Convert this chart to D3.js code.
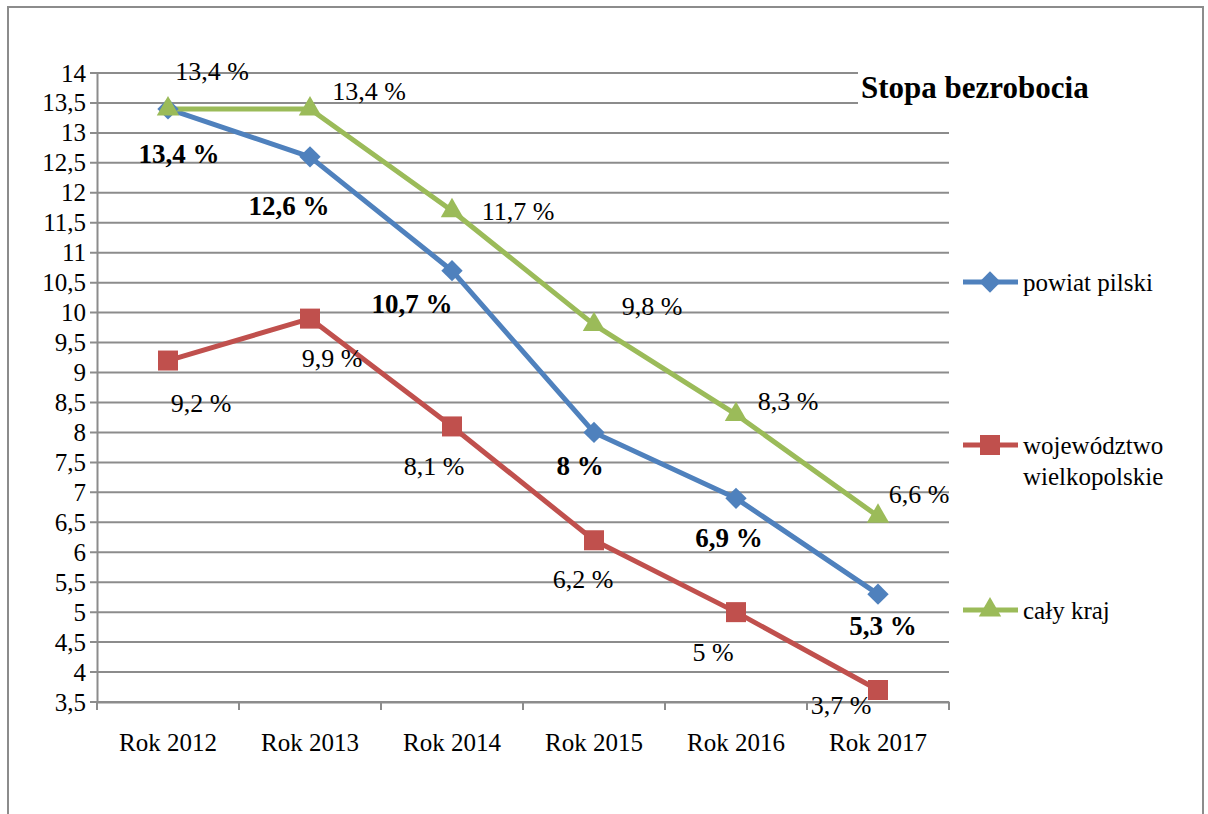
<!DOCTYPE html>
<html>
<head>
<meta charset="utf-8">
<script src="https://cdn.jsdelivr.net/npm/d3@7"></script>
<style>
  body { margin: 0; background: #fff; }
  svg, svg text { font-family: "Liberation Serif", "Times New Roman", "DejaVu Serif", serif; }
  svg { display: block; }
</style>
</head>
<body>
<svg id="chart" width="1208" height="814"></svg>
<script>
// data
const years = ["Rok 2012", "Rok 2013", "Rok 2014", "Rok 2015", "Rok 2016", "Rok 2017"];
const powiatPilski = [13.4, 12.6, 10.7, 8, 6.9, 5.3];
const wojewodztwo = [9.2, 9.9, 8.1, 6.2, 5, 3.7];
const calyKraj = [13.4, 13.4, 11.7, 9.8, 8.3, 6.6];
const yTicks = d3.range(3.5, 14.01, 0.5);

// label placement relative to the point (layout only)
const offsets = {
  blue:  [[11, 45], [-21, 49], [-40, 33], [-14, 34], [-7, 40], [5, 32]],
  red:   [[33, 43], [22, 40], [-18, 40], [-11, 39], [-23, 40], [-37, 15]],
  green: [[44, -37], [59, -17], [66, 1], [58, -18], [52, -13], [41, -22]]
};

const series = [
  { name: ["powiat pilski"], values: powiatPilski, color: "#4F81BD", symbol: d3.symbolDiamond2, size: 290, bold: true, off: offsets.blue, legendY: 282 },
  { name: ["województwo", "wielkopolskie"], values: wojewodztwo, color: "#C0504D", symbol: d3.symbolSquare2, size: 510, bold: false, off: offsets.red, legendY: 445 },
  { name: ["cały kraj"], values: calyKraj, color: "#9BBB59", symbol: d3.symbolTriangle2, size: 360, bold: false, off: offsets.green, legendY: 610 }
];

const svg = d3.select("#chart");
const plotLeft = 97, plotRight = 949, plotTop = 73, plotBottom = 702;

const x = d3.scaleBand().domain(years).range([plotLeft, plotRight]);
const y = d3.scaleLinear().domain([3.5, 14]).range([plotBottom, plotTop]);
const fmt = v => String(v).replace(".", ",") + " %";

// outer frame
svg.append("rect")
  .attr("x", 8).attr("y", 7).attr("width", 1195).attr("height", 830)
  .attr("fill", "none").attr("stroke", "#8c8c8c").attr("stroke-width", 2);

// gridlines
svg.append("g")
  .selectAll("line")
  .data(yTicks)
  .enter().append("line")
  .attr("x1", plotLeft - 7).attr("x2", plotRight)
  .attr("y1", d => y(d)).attr("y2", d => y(d))
  .attr("stroke", "#8c8c8c").attr("stroke-width", 2);

// y axis
const yAxis = svg.append("g").attr("transform", `translate(${plotLeft},0)`)
  .call(d3.axisLeft(y).tickValues(yTicks).tickSize(0).tickPadding(11)
    .tickFormat(d => String(d).replace(".", ",")));
yAxis.attr("font-family", null);
yAxis.select(".domain").attr("stroke", "#8c8c8c").attr("stroke-width", 2);
yAxis.selectAll("text").attr("font-size", 25).attr("fill", "#000");

// x axis
const xAxis = svg.append("g").attr("transform", `translate(0,${plotBottom})`)
  .call(d3.axisBottom(x).tickSize(0).tickPadding(31));
xAxis.attr("font-family", null);
xAxis.select(".domain").attr("stroke", "#8c8c8c").attr("stroke-width", 2);
xAxis.selectAll("text").attr("font-size", 25).attr("fill", "#000");
xAxis.append("g").selectAll("line")
  .data(d3.range(years.length + 1))
  .enter().append("line")
  .attr("x1", i => plotLeft + i * x.step()).attr("x2", i => plotLeft + i * x.step())
  .attr("y1", 0).attr("y2", 8)
  .attr("stroke", "#8c8c8c").attr("stroke-width", 2);

// title box over the top gridlines
svg.append("rect").attr("x", 858).attr("y", 66).attr("width", 240).attr("height", 44).attr("fill", "#fff");
svg.append("text").attr("x", 861).attr("y", 98)
  .attr("font-size", 31).attr("font-weight", "bold").text("Stopa bezrobocia");

const cx = d => x(d) + x.bandwidth() / 2;
const line = d3.line().x((d, i) => cx(years[i])).y(d => y(d));

// lines
series.forEach(s => {
  svg.append("path")
    .datum(s.values)
    .attr("d", line)
    .attr("fill", "none").attr("stroke", s.color).attr("stroke-width", 5)
    .attr("stroke-linejoin", "round");
});

// markers
series.forEach(s => {
  svg.append("g").selectAll("path")
    .data(s.values)
    .enter().append("path")
    .attr("transform", (d, i) => `translate(${cx(years[i])},${y(d)})`)
    .attr("d", d3.symbol().type(s.symbol).size(s.size))
    .attr("fill", s.color);
});

// data labels
series.forEach(s => {
  svg.append("g").selectAll("text")
    .data(s.values)
    .enter().append("text")
    .attr("x", (d, i) => cx(years[i]) + s.off[i][0])
    .attr("y", (d, i) => y(d) + s.off[i][1])
    .attr("text-anchor", "middle").attr("dominant-baseline", "central")
    .attr("font-size", s.bold ? 27 : 26)
    .attr("font-weight", s.bold ? "bold" : "normal")
    .text(fmt);
});

// legend
const legend = svg.append("g").selectAll("g")
  .data(series)
  .enter().append("g")
  .attr("transform", d => `translate(0,${d.legendY})`);
legend.append("line")
  .attr("x1", 963).attr("x2", 1018).attr("y1", 0).attr("y2", 0)
  .attr("stroke", d => d.color).attr("stroke-width", 5);
legend.append("path")
  .attr("transform", "translate(990,0)")
  .attr("d", d => d3.symbol().type(d.symbol).size(d.size)())
  .attr("fill", d => d.color);
legend.each(function (d) {
  const t = d3.select(this).append("text")
    .attr("x", 1023).attr("y", 0)
    .attr("font-size", 25).attr("dominant-baseline", "central");
  d.name.forEach((n, i) => {
    t.append("tspan").attr("x", 1023).attr("dy", i === 0 ? 0 : 31).text(n);
  });
});
</script>
</body>
</html>
